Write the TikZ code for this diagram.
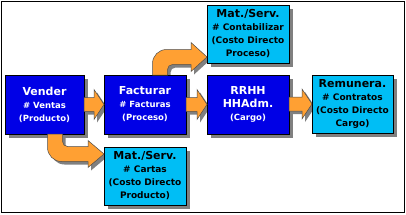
\documentclass[tikz,border=0pt]{standalone}
\usepackage{fontspec}
\setmainfont{DejaVu Sans}
\usetikzlibrary{calc,shadows}
\pgfdeclarelayer{back}
\pgfdeclarelayer{ashadow}
\pgfsetlayers{back,ashadow,main}
\definecolor{dkblue}{RGB}{0,0,230}
\definecolor{ltblue}{RGB}{0,190,245}
\definecolor{arrorange}{RGB}{255,160,51}
\definecolor{shgray}{RGB}{128,128,128}
\newcommand{\ttl}[1]{{\fontsize{11}{13}\selectfont #1}}
\newcommand{\sbl}[1]{{\fontsize{8.5}{13}\selectfont #1}}
\newcommand{\sbm}[1]{{\fontsize{9}{13}\selectfont #1}}
% straight block arrow path between coordinates (s) and (t)
\newcommand{\sarrpath}{($(s)+(0,-7)$) -- ($(t)+(-10,-7)$) -- ($(t)+(-10,-15)$) -- (t) -- ($(t)+(-10,15)$) -- ($(t)+(-10,7)$) -- ($(s)+(0,7)$) -- cycle}
\newcommand{\blkarr}[2]{%
  \coordinate (s) at (#1.east |- #2.west);
  \coordinate (t) at (#2.west);
  \begin{pgfonlayer}{ashadow}\fill[barrowsh] \sarrpath;\end{pgfonlayer}
  \filldraw[barrow] \sarrpath;}
\begin{document}
\begin{tikzpicture}[x=1pt,y=-1pt,
  box/.style={rectangle, draw=black, line width=0.8pt, inner sep=0pt, outer sep=0pt,
    align=center, font=\fontsize{9}{13}\selectfont\bfseries,
    drop shadow={shadow xshift=4pt, shadow yshift=-4pt, fill=shgray, opacity=1}},
  dark/.style={box, fill=dkblue, text=white, minimum width=82pt, minimum height=59pt},
  light/.style={box, fill=ltblue, text=black, minimum width=82pt, minimum height=58pt},
  barrow/.style={fill=arrorange, draw=black!70, line width=0.5pt, line join=miter},
  barrowsh/.style={fill=shgray, transform canvas={shift={(3pt,-3pt)}}}]
\useasboundingbox (0,0) rectangle (406,214);
\begin{pgfonlayer}{back}
  \fill[white] (0,0) rectangle (406,214);
\end{pgfonlayer}
\draw[line width=1.2pt] (1.5,1.5) rectangle (404.5,212.5);

\node[dark, minimum width=79pt] (vender) at (44.5,104.5)
  {\ttl{Vender}\\\sbl{\# Ventas}\\\sbl{(Producto)}};
\node[dark] (fact) at (145,104.5)
  {\ttl{Facturar}\\\sbl{\# Facturas}\\\sbl{(Proceso)}};
\node[dark] (rrhh) at (248,104.5)
  {\ttl{RRHH}\\\ttl{HHAdm.}\\\sbl{(Cargo)}};
\node[light, minimum width=81pt] (remu) at (352.5,104)
  {\ttl{Remunera.}\\\sbm{\# Contratos}\\\sbm{(Costo Directo}\\\sbm{Cargo)}};
\node[light] (mattop) at (248,34)
  {\ttl{Mat./Serv.}\\\sbm{\# Contabilizar}\\\sbm{(Costo Directo}\\\sbm{Proceso)}};
\node[light] (matbot) at (145,176)
  {\ttl{Mat./Serv.}\\\sbm{\# Cartas}\\\sbm{(Costo Directo}\\\sbm{Producto)}};

% straight arrows
\blkarr{vender}{fact}
\blkarr{fact}{rrhh}
\blkarr{rrhh}{remu}

% curved arrow: Vender -> bottom Mat./Serv.
\coordinate (bS) at ($(vender.south)+(10.5,0)$);
\coordinate (bT) at ($(matbot.north west)+(0,7)$);
\coordinate (bC) at (bS |- bT);
\newcommand{\bpath}{($(bS)+(-7.5,0)$) -- ($(bC)+(-7.5,-6.5)$) .. controls +(0,7.7) and +(-7.7,0) .. ($(bC)+(6.5,7.5)$) -- ($(bT)+(-16,7.5)$) -- ($(bT)+(-16,13.5)$) -- (bT) -- ($(bT)+(-16,-13.5)$) -- ($(bT)+(-16,-7.5)$) -- ($(bC)+(12.5,-7.5)$) .. controls +(-2.8,0) and +(0,2.8) .. ($(bC)+(7.5,-12.5)$) -- ($(bS)+(7.5,0)$) -- cycle}
\begin{pgfonlayer}{ashadow}\fill[barrowsh] \bpath;\end{pgfonlayer}
\filldraw[barrow] \bpath;

% curved arrow: Facturar -> top Mat./Serv.
\coordinate (tS) at ($(fact.north)+(15,0)$);
\coordinate (tT) at ($(mattop.south west)+(0,-6)$);
\coordinate (tC) at (tS |- tT);
\newcommand{\tpath}{($(tS)+(-7.5,0)$) -- ($(tC)+(-7.5,6.5)$) .. controls +(0,-7.7) and +(-7.7,0) .. ($(tC)+(6.5,-7.5)$) -- ($(tT)+(-16,-7.5)$) -- ($(tT)+(-16,-14.5)$) -- (tT) -- ($(tT)+(-16,14.5)$) -- ($(tT)+(-16,7.5)$) -- ($(tC)+(12.5,7.5)$) .. controls +(-2.8,0) and +(0,-2.8) .. ($(tC)+(7.5,12.5)$) -- ($(tS)+(7.5,0)$) -- cycle}
\begin{pgfonlayer}{ashadow}\fill[barrowsh] \tpath;\end{pgfonlayer}
\filldraw[barrow] \tpath;
\end{tikzpicture}
\end{document}
